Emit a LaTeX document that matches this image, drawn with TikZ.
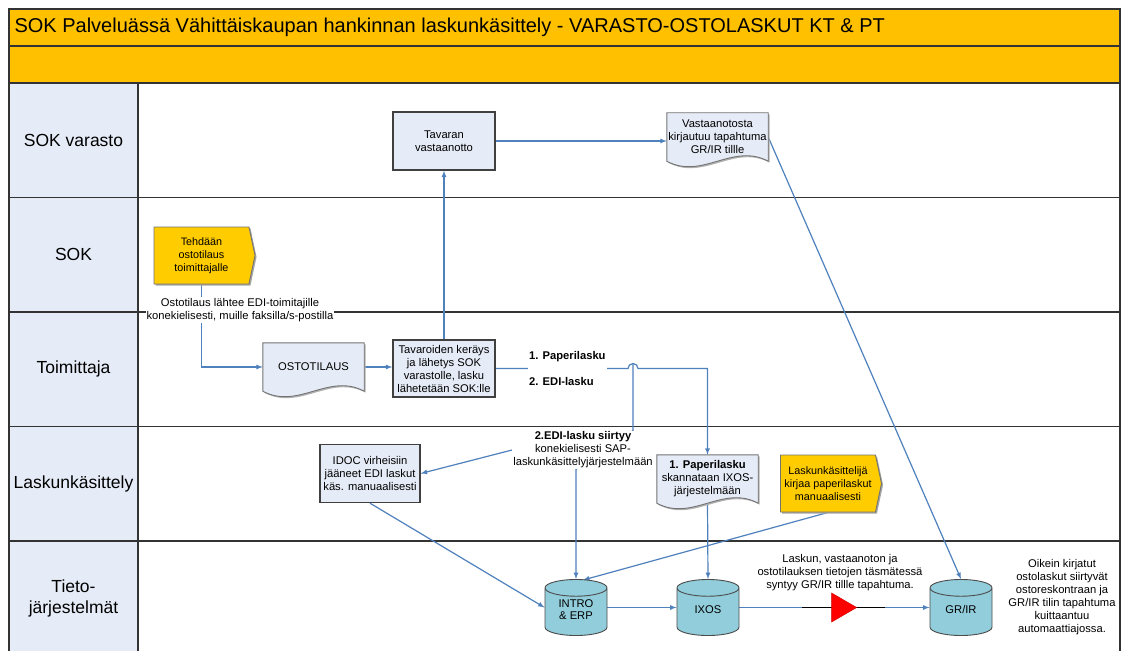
\documentclass[tikz,border=0pt]{standalone}
\usepackage{fontspec}
\setmainfont{Liberation Sans}
\usepackage{tikz}
\usetikzlibrary{shapes,arrows,positioning,calc,backgrounds,shadows}
\definecolor{sokOrange}{RGB}{255,192,0}
\definecolor{sokYellow}{RGB}{255,204,0}
\definecolor{laneBlue}{RGB}{230,236,247}
\definecolor{flowBlue}{RGB}{79,129,189}
\definecolor{dbTeal}{RGB}{146,205,220}
\definecolor{edgeGray}{RGB}{64,64,64}
\pgfdeclarelayer{docs}
\pgfsetlayers{background,docs,main}
\newcommand{\boxfont}{\fontsize{11.2}{13}\selectfont}
\newcommand{\docoutline}[1]{(#1.north west) -- (#1.north east) -- (#1.south east)
  .. controls ($(#1.south east)!0.35!(#1.south west)+(0,-19)$)
  and ($(#1.south east)!0.65!(#1.south west)+(0,19)$) .. (#1.south west) -- cycle}

\begin{document}
\begin{tikzpicture}[x=1pt, y=-1pt,
    lanelabel/.style={font=\fontsize{17.5}{21}\selectfont, align=center},
    procbox/.style={rectangle, draw=edgeGray, line width=1.4pt, fill=laneBlue, minimum width=102pt, minimum height=58pt, align=center, font=\boxfont, inner sep=1pt},
    docbox/.style={rectangle, minimum width=101pt, minimum height=48pt, align=center, font=\boxfont, inner sep=1pt},
    docline/.style={draw=black!55, line width=0.9pt, fill=laneBlue},
    flagbox/.style={signal, signal to=east, signal pointer angle=156, draw=black!55, line width=0.9pt, fill=sokYellow, minimum width=101pt, minimum height=57pt, align=center, font=\fontsize{10.8}{13}\selectfont, inner sep=1pt, drop shadow={shadow xshift=1.5pt, shadow yshift=-1.5pt, fill=black!35, opacity=1}},
    dbase/.style={cylinder, shape border rotate=90, aspect=0.5, draw=black!70, line width=0.9pt, fill=dbTeal, minimum width=62pt, minimum height=56pt, font=\boxfont, text depth=14pt, anchor=shape center},
    dbtext/.style={font=\fontsize{11.2}{11.5}\selectfont, align=center, inner sep=0pt},
    merge/.style={isosceles triangle, isosceles triangle stretches, fill=red, draw=red!80!black, minimum width=29pt, minimum height=25pt, inner sep=0pt},
    note/.style={font=\boxfont, align=center, inner sep=1pt},
    flow/.style={flowBlue, line width=1.2pt, -latex},
    laneline/.style={draw=black!80, line width=1.1pt}
]
\useasboundingbox (0,0) rectangle (1131,650);

% Lanes
\begin{pgfonlayer}{background}
  \fill[white] (0,0) rectangle (1131,650);
  \draw[laneline, fill=sokOrange] (9,9) rectangle (1120,46);
  \draw[laneline, fill=sokOrange] (9,46) rectangle (1120,83);
  \foreach \lname [count=\i] in {SOK varasto, SOK, Toimittaja, Laskunkäsittely, {Tieto-\\järjestelmät}} {
    \pgfmathsetmacro{\ytop}{83+(\i-1)*114.5}
    \draw[laneline] (9,\ytop) rectangle (1120,\ytop+114.5);
    \draw[laneline, fill=laneBlue] (9,\ytop) rectangle (138,\ytop+114.5);
    \node[lanelabel] (lane\i) at (73.5,\ytop+57) {\lname};
  }
\end{pgfonlayer}
\node[anchor=west, font=\fontsize{20}{24}\selectfont] (title) at (11,27.5) {SOK Palveluässä Vähittäiskaupan hankinnan laskunkäsittely - VARASTO-OSTOLASKUT KT \& PT};

% Nodes
\node[procbox] (recv) at (444,141) {Tavaran\\vastaanotto};
\node[docbox] (grdoc) at (717.5,137) {Vastaanotosta\\kirjautuu tapahtuma\\GR/IR tillle};
\node[flagbox] (po) at (201.5,255.5) {Tehdään\\ostotilaus\\toimittajalle};
\node[docbox] (order) at (313.5,367) {OSTOTILAUS};
\node[procbox, minimum height=57pt] (ship) at (444,368.5) {Tavaroiden keräys\\ja lähetys SOK\\varastolle, lasku\\lähetetään SOK:lle};
\node[procbox, minimum width=100pt] (idoc) at (370,473.5) {IDOC virheisiin\\jääneet EDI laskut\\käs. manuaalisesti};
\node[docbox] (scan) at (707.5,479) {\textbf{1. Paperilasku}\\skannataan IXOS-\\järjestelmään};
\node[flagbox] (manual) at (828,483.5) {Laskunkäsittelijä\\kirjaa paperilaskut\\manuaalisesti};
\node[dbase] (intro) at (576,607.5) {\phantom{IXOS}};
\node[dbase] (ixos) at (708,607.5) {\phantom{IXOS}};
\node[dbase] (grir) at (961,607.5) {\phantom{IXOS}};
\node[dbtext] (introtext) at ($(intro.shape center)+(0,2)$) {INTRO\\\& ERP};
\node[dbtext] (ixostext) at ($(ixos.shape center)+(0,2)$) {IXOS};
\node[dbtext] (grirtext) at ($(grir.shape center)+(0,2)$) {GR/IR};
\node[merge] (gate) at (840,607.5) {};

% Labels
\node[note, fill=white] (polabel) at (240,310) {Ostotilaus lähtee EDI-toimitajille\\konekielisesti, muille faksilla/s-postilla};
\node[note, fill=white, align=left, anchor=west, font=\boxfont\bfseries] (paylabel) at (528,368.5) {1. Paperilasku\\[13pt]2. EDI-lasku};
\node[note, fill=white] (edilabel) at (583,450) {\textbf{2.EDI-lasku siirtyy}\\konekielisesti SAP-\\laskunkäsittelyjärjestelmään};
\node[note] (matchnote) at (840,573) {Laskun, vastaanoton ja\\ostotilauksen tietojen täsmätessä\\syntyy GR/IR tillle tapahtuma.};
\node[note] (donenote) at (1062,597) {Oikein kirjatut\\ostolaskut siirtyvät\\ostoreskontraan ja\\GR/IR tilin tapahtuma\\kuittaantuu\\automaattiajossa.};
\coordinate (edisplit) at (633,363);

% Document shapes
\begin{pgfonlayer}{docs}
  \foreach \d in {grdoc,order,scan} {
    \fill[black!30, transform canvas={xshift=1.5pt, yshift=-1.5pt}] \docoutline{\d};
    \draw[docline] \docoutline{\d};
  }
\end{pgfonlayer}

% Edges
\begin{pgfonlayer}{background}
  \draw[flow] (recv.east) -- (recv.east -| grdoc.west);
  \draw[flow] (po.south) |- (order.west);
  \draw[flow] (order.east) -- (order.east -| ship.west);
  \draw[flow] (ship.north) -- (recv.south);
  \draw[flow] (ship.east) -- ($(edisplit |- ship.east)+(-5,0)$) arc (180:360:5) -| (scan.north);
  \draw[flow] (edisplit) -- (edisplit |- edilabel.north) -- (edilabel.south -| intro.north) -- (intro.north);
  \draw[flow] (edilabel.west) -- (idoc.east);
  \draw[flow] (idoc.south) -- (intro.shape center -| intro.west);
  \draw[flow] (scan.south) -- (ixos.north);
  \draw[flow] (manual.south) -- ($(intro.north)+(7,1)$);
  \draw[flow] (intro.shape center -| intro.east) -- (ixos.shape center -| ixos.west);
  \draw[flow] (ixos.shape center -| ixos.east) -- (grir.shape center -| grir.west);
  \draw[flow] (grdoc.east) -- (grir.north);
  \draw[line width=1.1pt, black] ($(gate.west)+(-29,0)$) -- ($(gate.east)+(28,0)$);
\end{pgfonlayer}
\end{tikzpicture}
\end{document}
